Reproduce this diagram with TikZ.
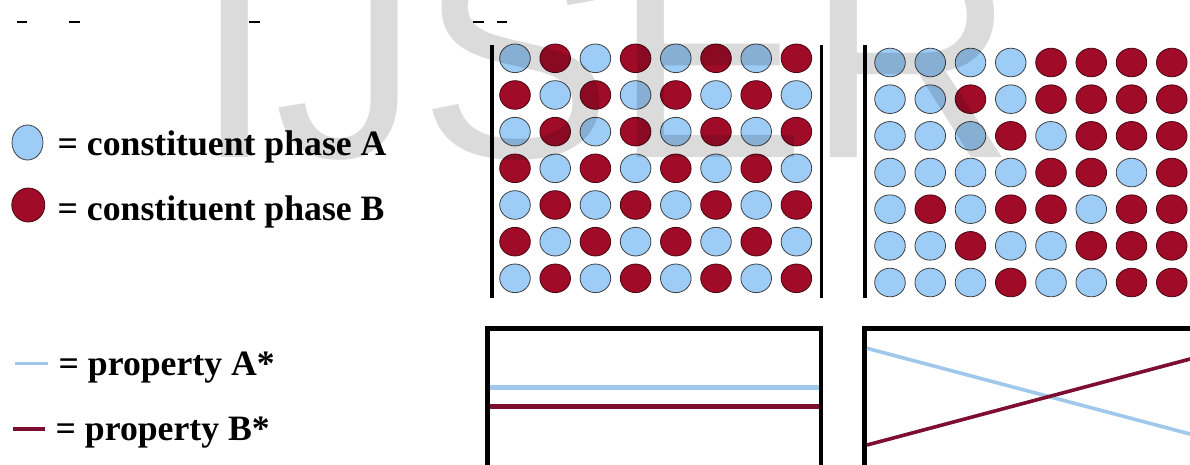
\documentclass[tikz,border=0pt]{standalone}
\usepackage{fontspec}
\setmainfont{Liberation Serif}
\newfontfamily\wmfont{Liberation Sans}
\definecolor{phA}{RGB}{157,204,246}
\definecolor{phB}{RGB}{160,12,40}
\definecolor{lnA}{RGB}{160,200,236}
\definecolor{lnB}{RGB}{125,14,48}
\begin{document}
\begin{tikzpicture}[x=1pt,y=-1pt,
  legtext/.style={anchor=base west, inner sep=0pt, font=\fontsize{35.7}{40}\selectfont\bfseries},
  circA/.style={fill=phA, draw=black!75, line width=0.8pt},
  circB/.style={fill=phB, draw=black!55!phB, line width=0.8pt},
  bar/.style={line width=3.2pt},
  frame/.style={line width=4.5pt},
  propA/.style={draw=lnA, line width=5pt},
  propB/.style={draw=lnB, line width=5pt},
  slopeA/.style={draw=lnA, line width=3.6pt},
  slopeB/.style={draw=lnB, line width=3.6pt},
  tick/.style={line width=1.2pt}]
\useasboundingbox (0,0) rectangle (1190,464);
\clip (0,0) rectangle (1190,464);
\fill[white] (0,0) rectangle (1190,464);

% small top dashes
\draw[tick] (17,22) -- (27,22);
\draw[tick] (69,22) -- (80,22);
\draw[tick] (249,22) -- (260,22);
\draw[tick] (473,22) -- (484,22);
\draw[tick] (497,22) -- (507,22);

% legend
\draw[circA] (27.5,142.5) ellipse [x radius=15.5, y radius=17.5];
\node[legtext] (tA) at (57.5,155) {= constituent phase A};
\draw[circB] (28.3,205) ellipse [x radius=16.5, y radius=17];
\node[legtext] (tB) at (57.5,220) {= constituent phase B};

\coordinate (la1) at (15,363.5); \coordinate (la2) at (48,363.5);
\draw[draw=lnA, line width=3.6pt] (la1) -- (la2);
\node[legtext] (pA) at (58.5,375) {= property A*};
\coordinate (lb1) at (13,429); \coordinate (lb2) at (45,429);
\draw[draw=lnB, line width=3.6pt] (lb1) -- (lb2);
\node[legtext] (pB) at (55.5,440) {= property B*};

% grid 1 (ordered)
\draw[bar] (492,45) -- (492,298);
\draw[bar] (821.5,45) -- (821.5,298);
\foreach \i in {0,...,6} {
  \foreach \j in {0,...,7} {
    \pgfmathtruncatemacro\k{mod(\i+\j,2)}
    \ifnum\k=0 \def\cs{circA}\else\def\cs{circB}\fi
    \draw[\cs] (515+40.2*\j, 58.3+36.67*\i) ellipse [x radius=15.3, y radius=14.3];
  }
}

% grid 2 (graded)
\draw[bar] (865,45) -- (865,298);
\foreach \row [count=\i from 0] in {
  {0,0,0,0,1,1,1,1},
  {0,0,1,0,1,1,1,1},
  {0,0,0,1,0,1,1,1},
  {0,0,0,0,1,1,0,1},
  {0,1,0,1,1,0,1,1},
  {0,0,1,0,0,1,1,1},
  {0,0,0,1,0,0,1,1}} {
  \foreach \c [count=\j from 0] in \row {
    \ifnum\c=0 \def\cs{circA}\else\def\cs{circB}\fi
    \draw[\cs] (890+40.25*\j, 62.5+36.67*\i) ellipse [x radius=15.3, y radius=14.3];
  }
}

% property box 1
\draw[frame] (487.5,480) -- (487.5,328.7) -- (821,328.7) -- (821,480);
\coordinate (a1) at (490,387.5); \coordinate (a2) at (819,387.5);
\coordinate (b1) at (490,406.8); \coordinate (b2) at (819,406.8);
\draw[propA] (a1) -- (a2);
\draw[propB] (b1) -- (b2);

% property box 2
\draw[frame] (864.7,480) -- (864.7,328.7) -- (1200,328.7);
\coordinate (c1) at (867,348.3); \coordinate (c2) at (1195,435.3);
\coordinate (d1) at (867,445); \coordinate (d2) at (1195,357.7);
\draw[slopeA] (c1) -- (c2);
\draw[slopeB] (d1) -- (d2);

% watermark
\node[anchor=base west, inner sep=0pt, font=\wmfont\fontsize{290}{290}\selectfont,
      text=black, text opacity=0.14] (wm) at (194,157) {IJSER};
\end{tikzpicture}
\end{document}
